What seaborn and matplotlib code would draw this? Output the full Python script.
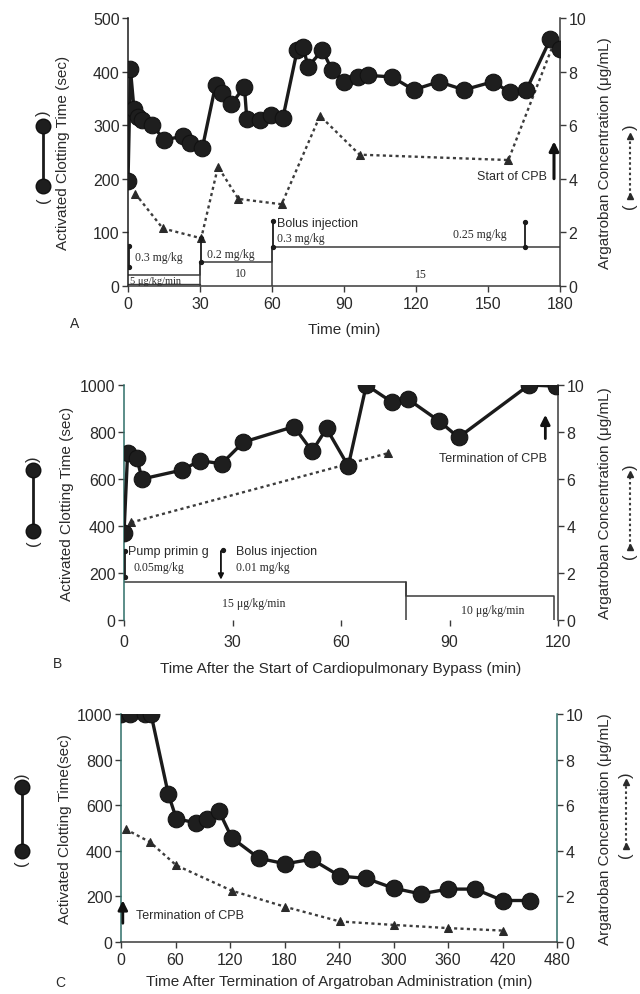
import matplotlib
matplotlib.use("Agg")
import matplotlib.pyplot as plt
import matplotlib.transforms as mtransforms
from matplotlib.lines import Line2D
import pandas as pd
import seaborn as sns

# ---------------- Data ----------------
# Panel A
a_act_time = [0, 1, 2.5, 4, 6, 10, 15, 23, 26, 31, 36.5, 39, 43, 48.5, 49.5, 55, 59.5,
              64.5, 70.5, 73, 75, 81, 85, 90, 96, 100, 110, 119, 129.5, 140, 152, 159,
              166, 176, 180]
a_act = [195, 405, 330, 316, 310, 301, 273, 279, 267, 258, 375, 360, 339, 372, 312, 310,
         319, 313, 440, 446, 409, 440, 403, 381, 390, 393, 390, 366, 381, 366, 381, 362,
         366, 461, 443]
a_conc_time = [3, 14.5, 30.5, 37.5, 46, 64, 80, 96.5, 158.5, 178]
a_conc = [3.45, 2.15, 1.78, 4.45, 3.25, 3.05, 6.35, 4.9, 4.7, 9.2]

# Panel B
b_act_time = [0, 1, 3.5, 5, 16, 21, 27, 33, 47, 52, 56, 62, 67, 74, 78.5, 87, 92.5, 112, 119.5]
b_act = [370, 710, 690, 600, 638, 678, 665, 757, 823, 718, 815, 655, 1000, 928, 940, 848,
         777, 1000, 995]
b_conc_time = [2, 73]
b_conc = [4.15, 7.1]

# Panel C
c_act_time = [0, 10, 26, 33, 52, 61, 83, 95, 108, 122, 152, 181, 210, 241, 270, 300, 330,
              360, 390, 420, 450]
c_act = [1000, 1000, 1000, 1000, 650, 540, 523, 538, 573, 457, 367, 343, 363, 289, 279,
         236, 211, 232, 232, 182, 182]
c_conc_time = [5, 32, 61, 122, 181, 241, 300, 360, 421]
c_conc = [4.95, 4.38, 3.36, 2.25, 1.54, 0.9, 0.75, 0.61, 0.5]

# Dosing steps (x, y) in ACT-axis units
a_dose_x = [0, 30, 30, 60, 60, 180]
a_dose_y = [20, 20, 45, 45, 73, 73]
b_dose_x = [0, 78, 78, 119, 119]
b_dose_y = [160, 160, 104, 104, 0]

x_ticks_a = [0, 30, 60, 90, 120, 150, 180]
x_ticks_b = [0, 30, 60, 90, 120]
x_ticks_c = [0, 60, 120, 180, 240, 300, 360, 420, 480]

# ---------------- Style ----------------
sns.set_theme(style="ticks")
plt.rcParams['font.family'] = ['Liberation Sans', 'DejaVu Sans']
INK = '#1b1b1b'
TXT = '#2a2a2a'
GRAY = '#3a3a3a'
TEAL = '#2f6f68'
SERIF = ['Liberation Serif', 'DejaVu Serif']

W, H = 640, 995
fig = plt.figure(figsize=(6.4, 9.95), dpi=100)
fig.patch.set_facecolor('white')


def make_axes(l, r, t, b):
    ax = fig.add_axes([l / W, 1 - b / H, (r - l) / W, (b - t) / H])
    return ax


def style_axes(ax, ax2, l, r, xmax, xticks, ymax, ystep, xlabel, ylabel,
               lab_left_px, lab_right_px, xlabelpad, leftcol=INK, rightcol=GRAY,
               show_bottom=True, xpad=3):
    ax.set_xlim(0, xmax)
    ax.set_ylim(0, ymax)
    ax2.set_ylim(0, 10)
    ax.set_xticks(xticks)
    ax.set_yticks(list(range(0, ymax + 1, ystep)))
    ax2.set_yticks([0, 2, 4, 6, 8, 10])
    for a in (ax, ax2):
        a.spines['top'].set_visible(False)
        a.set_facecolor('none')
    ax.spines['right'].set_visible(False)
    ax2.spines['left'].set_visible(False)
    ax2.spines['bottom'].set_visible(False)
    ax.spines['left'].set_color(leftcol)
    ax2.spines['right'].set_color(rightcol)
    ax.spines['bottom'].set_color(GRAY)
    ax.spines['bottom'].set_visible(show_bottom)
    for sp in ('left', 'bottom'):
        ax.spines[sp].set_linewidth(1.1)
    ax2.spines['right'].set_linewidth(1.1)
    ax.tick_params(axis='both', direction='out', length=4, width=1, colors=GRAY,
                   labelsize=11.5, labelcolor=TXT, pad=2)
    ax.tick_params(axis='x', pad=xpad)
    ax2.tick_params(axis='y', direction='out', length=4, width=1, colors=GRAY,
                    labelsize=11.5, labelcolor=TXT, pad=2)
    ax.set_xlabel(xlabel, fontsize=11, color=TXT, labelpad=xlabelpad)
    ax.set_ylabel(ylabel, fontsize=11, color=TXT)
    ax2.set_ylabel('Argatroban Concentration (\u03bcg/mL)', fontsize=11, color=TXT)
    wpx = r - l
    ax.yaxis.set_label_coords((lab_left_px - l) / wpx, 0.5)
    ax2.yaxis.set_label_coords((lab_right_px - l) / wpx, 0.5)


def draw_series(ax, ax2, t, v, ct, cv):
    df = pd.DataFrame({'t': t, 'v': v})
    dc = pd.DataFrame({'t': ct, 'c': cv})
    sns.lineplot(data=dc, x='t', y='c', ax=ax2, sort=False, estimator=None,
                 color='#3c3c3c', linewidth=1.7, linestyle=(0, (1.3, 1.4)),
                 marker='^', markersize=5.5, markeredgecolor='#2a2a2a',
                 markerfacecolor='#2a2a2a')
    sns.lineplot(data=df, x='t', y='v', ax=ax, sort=False, estimator=None,
                 color=INK, linewidth=2.4, marker='o', markersize=12,
                 markeredgecolor='#111111', markerfacecolor='#1e1e1e', zorder=5)
    ax.set_zorder(ax2.get_zorder() + 1)
    ax.patch.set_visible(False)
    ax2.set_xlabel('')


def legends(ax, xl_px, xr_px, ltop, lbot, rtop, rbot, off=0.05):
    trl = mtransforms.blended_transform_factory(fig.transFigure, ax.transAxes)
    xl = xl_px / W
    xr = xr_px / W
    # left: ( o---o )
    fig.add_artist(Line2D([xl, xl], [lbot, ltop], transform=trl, color=INK, lw=2,
                          marker='o', markersize=10.5, markerfacecolor='#1e1e1e',
                          markeredgecolor='#111'))
    fig.text(xl, lbot - off, '(', transform=trl, rotation=90, ha='center', va='center',
             fontsize=12, color=TXT)
    fig.text(xl, ltop + off, ')', transform=trl, rotation=90, ha='center', va='center',
             fontsize=12, color=TXT)
    # right: ( ^.....^ )
    fig.add_artist(Line2D([xr, xr], [rbot, rtop], transform=trl, color='#3c3c3c', lw=1.5,
                          linestyle=(0, (1.2, 1.3)), marker='^', markersize=4.5,
                          markerfacecolor='#2a2a2a', markeredgecolor='#2a2a2a'))
    fig.text(xr, rbot - off * 0.7, '(', transform=trl, rotation=90, ha='center',
             va='center', fontsize=12, color=TXT)
    fig.text(xr, rtop + off * 0.7, ')', transform=trl, rotation=90, ha='center',
             va='center', fontsize=12, color=TXT)


def dot_line(ax, x, y0, y1, dots=(True, True)):
    ax.plot([x, x], [y0, y1], color=INK, lw=1.3, zorder=3)
    if dots[0]:
        ax.plot([x], [y0], 'o', color=INK, ms=2.8, zorder=3)
    if dots[1]:
        ax.plot([x], [y1], 'o', color=INK, ms=2.8, zorder=3)


# ================= Panel A =================
axA = make_axes(128, 560, 19, 287)
axA2 = axA.twinx()
draw_series(axA, axA2, a_act_time, a_act, a_conc_time, a_conc)
style_axes(axA, axA2, 128, 560, 180, x_ticks_a, 500, 100, 'Time (min)',
           'Activated Clotting Time (sec)', 70, 598, xlabelpad=8)
# dosing annotations
axA.plot(a_dose_x, a_dose_y, color=GRAY, lw=1.1, zorder=2)
axA.plot([30, 30], [0, 45], color=GRAY, lw=1.1, zorder=2)
axA.plot([60, 60], [0, 73], color=GRAY, lw=1.1, zorder=2)
axA.plot([0, 30], [3, 3], color=GRAY, lw=1.0, zorder=2)
dot_line(axA, 0.3, 35, 75)
dot_line(axA, 30.3, 45, 90)
dot_line(axA, 60.3, 73, 122)
dot_line(axA, 165.5, 73, 120)
axA.text(1.0, 11, '5 \u03bcg/kg/min', fontsize=7.5, family=SERIF, color=TXT, va='center')
axA.text(3, 55, '0.3 mg/kg', fontsize=8.5, family=SERIF, color=TXT, va='center')
axA.text(33, 59, '0.2 mg/kg', fontsize=8.5, family=SERIF, color=TXT, va='center')
axA.text(47, 24, '10', fontsize=8.5, family=SERIF, color=TXT, ha='center', va='center')
axA.text(122, 22, '15', fontsize=8.5, family=SERIF, color=TXT, ha='center', va='center')
axA.text(62, 117, 'Bolus injection', fontsize=9, color=TXT, va='center')
axA.text(62, 89, '0.3 mg/kg', fontsize=8.5, family=SERIF, color=TXT, va='center')
axA.text(146.5, 97, '0.25 mg/kg', fontsize=8.5, family=SERIF, color=TXT, ha='center',
         va='center')
axA.text(160, 206, 'Start of CPB', fontsize=9, color=TXT, ha='center', va='center')
axA.annotate('', xy=(177.5, 275), xytext=(177.5, 195),
             arrowprops=dict(arrowstyle='-|>', lw=2.2, color='#111', mutation_scale=14))
fig.text(75 / W, 1 - 324 / H, 'A', fontsize=10, color=TXT, ha='center', va='center')
legends(axA, 43, 630, 0.597, 0.373, 0.56, 0.336)

# ================= Panel B =================
axB = make_axes(124, 558, 386, 621)
axB2 = axB.twinx()
draw_series(axB, axB2, b_act_time, b_act, b_conc_time, b_conc)
style_axes(axB, axB2, 124, 558, 120, x_ticks_b, 1000, 200,
           'Time After the Start of Cardiopulmonary Bypass (min)',
           'Activated Clotting Time (sec)', 74, 598, xlabelpad=9, leftcol=TEAL,
           show_bottom=False, xpad=6)
axB.plot(b_dose_x, b_dose_y, color=GRAY, lw=1.1, zorder=2)
axB.plot([78, 78], [160, 0], color=GRAY, lw=1.1, zorder=2)
dot_line(axB, 0.3, 185, 292)
axB.plot([27.5], [300], 'o', color=INK, ms=2.8)
axB.annotate('', xy=(26.8, 160), xytext=(26.8, 305),
             arrowprops=dict(arrowstyle='-|>', lw=1.3, color='#111', mutation_scale=8))
axB.text(1.2, 292, 'Pump primin g', fontsize=9, color=TXT, va='center')
axB.text(2.5, 226, '0.05mg/kg', fontsize=8.5, family=SERIF, color=TXT, va='center')
axB.text(31, 292, 'Bolus injection', fontsize=9, color=TXT, va='center')
axB.text(31, 226, '0.01 mg/kg', fontsize=8.5, family=SERIF, color=TXT, va='center')
axB.text(36, 72, '15 \u03bcg/kg/min', fontsize=8.5, family=SERIF, color=TXT, ha='center',
         va='center')
axB.text(102, 44, '10 \u03bcg/kg/min', fontsize=8.5, family=SERIF, color=TXT, ha='center',
         va='center')
axB.text(102, 690, 'Termination of CPB', fontsize=9, color=TXT, ha='center', va='center')
axB.annotate('', xy=(116.5, 885), xytext=(116.5, 760),
             arrowprops=dict(arrowstyle='-|>', lw=2.0, color='#111', mutation_scale=14))
fig.text(58 / W, 1 - 664 / H, 'B', fontsize=10, color=TXT, ha='center', va='center')
legends(axB, 33, 630, 0.64, 0.38, 0.62, 0.31)

# ================= Panel C =================
axC = make_axes(121, 557, 715, 943)
axC2 = axC.twinx()
draw_series(axC, axC2, c_act_time, c_act, c_conc_time, c_conc)
style_axes(axC, axC2, 121, 557, 480, x_ticks_c, 1000, 200,
           'Time After Termination of Argatroban Administration (min)',
           'Activated Clotting Time(sec)', 72, 598, xlabelpad=5, leftcol=TEAL,
           rightcol=TEAL)
axC.text(17, 118, 'Termination of CPB', fontsize=9, color=TXT, va='center')
axC.annotate('', xy=(2, 195), xytext=(2, 70),
             arrowprops=dict(arrowstyle='-|>', lw=2.0, color='#111', mutation_scale=14))
fig.text(60 / W, 1 - 983 / H, 'C', fontsize=10, color=TXT, ha='center', va='center')
legends(axC, 22, 626, 0.68, 0.40, 0.70, 0.42)

fig.savefig('out.png', dpi=100, facecolor='white')
